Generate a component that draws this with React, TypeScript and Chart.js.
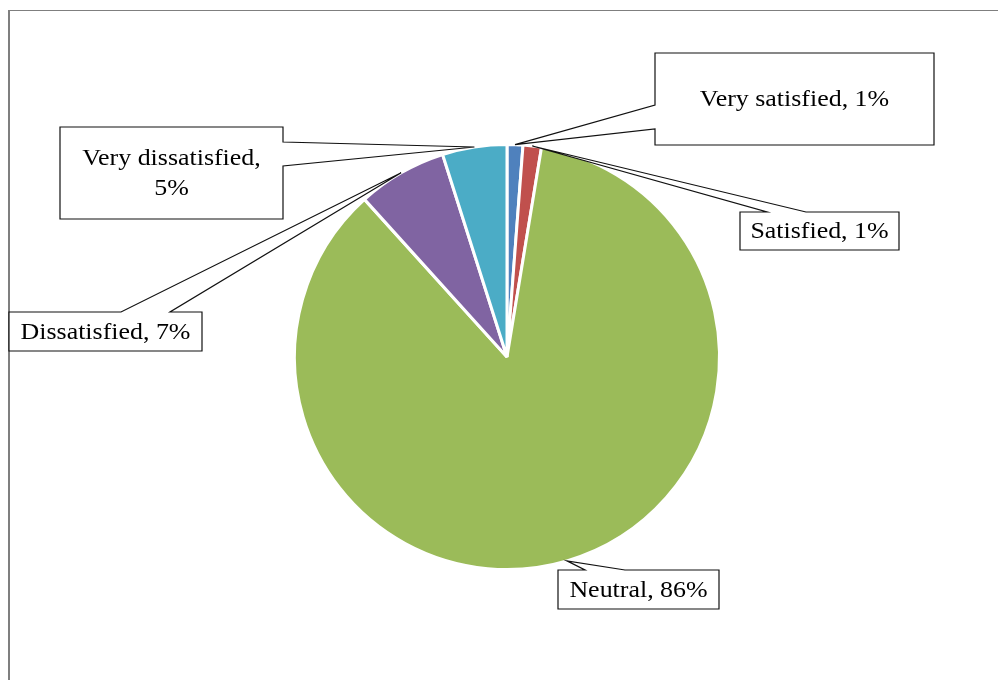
import React, { useEffect, useRef } from "react";
import { Chart, registerables } from "chart.js";

Chart.register(...registerables);

// Survey answers and their share of respondents (percent)
const categories = ["Very satisfied", "Satisfied", "Neutral", "Dissatisfied", "Very dissatisfied"];
const shares = [1.2, 1.4, 85.7, 6.8, 4.9];
const sliceColors = ["#4F81BD", "#C0504D", "#9BBB59", "#8064A2", "#4BACC6"];

// Callout boxes, in the same order as the categories. The pointer leaves the box
// from one edge between positions a and b along that edge.
type Side = "left" | "right" | "top";
type Callout = { x: number; y: number; w: number; h: number; side: Side; a: number; b: number; wrap: boolean };
const callouts: Callout[] = [
  { x: 655, y: 53, w: 279, h: 92, side: "left", a: 105, b: 129, wrap: false },
  { x: 740, y: 212, w: 159, h: 38, side: "top", a: 767, b: 806, wrap: false },
  { x: 558, y: 570, w: 161, h: 39, side: "top", a: 585, b: 625, wrap: false },
  { x: 9, y: 312, w: 193, h: 39, side: "top", a: 121, b: 170, wrap: false },
  { x: 60, y: 127, w: 223, h: 92, side: "right", a: 142, b: 166, wrap: true },
];

const FONT = '24px "Liberation Serif", "Times New Roman", serif';
const TEXT_STRETCH = 1.08;

const calloutPlugin = {
  id: "callouts",
  afterDraw(chart: any) {
    const ctx: CanvasRenderingContext2D = chart.ctx;
    const arcs = chart.getDatasetMeta(0).data;
    const values = chart.data.datasets[0].data as number[];
    const total = values.reduce((s, v) => s + v, 0);

    ctx.save();
    // outer frame of the chart
    ctx.fillStyle = "#7f7f7f";
    ctx.fillRect(8, 10, 990, 1);
    ctx.fillRect(8, 10, 2, 670);

    arcs.forEach((arc: any, i: number) => {
      const c = callouts[i];
      if (!c) return;
      const p = arc.getProps(["x", "y", "startAngle", "endAngle", "outerRadius"], true);
      const mid = (p.startAngle + p.endAngle) / 2;
      const tx = p.x + Math.cos(mid) * p.outerRadius;
      const ty = p.y + Math.sin(mid) * p.outerRadius;
      const { x, y, w, h } = c;

      ctx.beginPath();
      ctx.moveTo(x, y);
      if (c.side === "top") {
        ctx.lineTo(c.a, y);
        ctx.lineTo(tx, ty);
        ctx.lineTo(c.b, y);
      }
      ctx.lineTo(x + w, y);
      if (c.side === "right") {
        ctx.lineTo(x + w, c.a);
        ctx.lineTo(tx, ty);
        ctx.lineTo(x + w, c.b);
      }
      ctx.lineTo(x + w, y + h);
      ctx.lineTo(x, y + h);
      if (c.side === "left") {
        ctx.lineTo(x, c.b);
        ctx.lineTo(tx, ty);
        ctx.lineTo(x, c.a);
      }
      ctx.closePath();
      ctx.fillStyle = "#ffffff";
      ctx.fill();
      ctx.lineWidth = 1.2;
      ctx.strokeStyle = "#111111";
      ctx.stroke();

      const pct = Math.round((values[i] / total) * 100);
      const lines = c.wrap
        ? [`${chart.data.labels[i]},`, `${pct}%`]
        : [`${chart.data.labels[i]}, ${pct}%`];
      ctx.fillStyle = "#000000";
      ctx.font = FONT;
      ctx.textAlign = "center";
      ctx.textBaseline = "middle";
      const lh = 30;
      const cy = y + h / 2 + 1 - ((lines.length - 1) * lh) / 2;
      const cx = x + w / 2;
      lines.forEach((t, k) => {
        ctx.save();
        ctx.translate(cx, cy + k * lh);
        ctx.scale(TEXT_STRETCH, 1);
        ctx.fillText(t, 0, 0);
        ctx.restore();
      });
    });
    ctx.restore();
  },
};

export default function App() {
  const ref = useRef<HTMLCanvasElement | null>(null);

  useEffect(() => {
    if (!ref.current) return;
    const chart = new Chart(ref.current, {
      type: "pie",
      data: {
        labels: categories,
        datasets: [
          {
            data: shares,
            backgroundColor: sliceColors,
            borderColor: "#ffffff",
            borderWidth: 3,
          },
        ],
      },
      options: {
        animation: false,
        responsive: false,
        maintainAspectRatio: false,
        layout: { padding: { left: 293, right: 278, top: 143, bottom: 109 } },
        plugins: {
          legend: { display: false },
          tooltip: { enabled: false },
        },
      },
      plugins: [calloutPlugin],
    });
    return () => chart.destroy();
  }, []);

  return (
    <div style={{ position: "fixed", left: 0, top: 0, width: 999, height: 680, background: "#ffffff" }}>
      <canvas ref={ref} width={999} height={680} style={{ display: "block" }} />
    </div>
  );
}
